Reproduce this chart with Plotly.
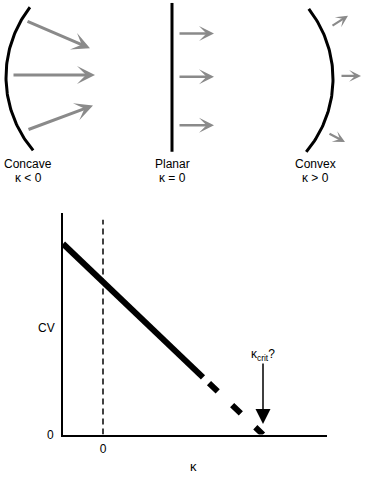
import numpy as np
import plotly.graph_objects as go

# ---------------- data ----------------
kappa_solid = [-1.0, 2.5]        # measured relation CV(kappa)
cv_solid = [5.0, 1.5]
kappa_dashed = [2.65, 4.0]       # extrapolation toward kappa_crit
cv_dashed = [1.35, 0.0]
kappa_zero = [0, 0]
cv_zero = [0, 5.63]
kappa_crit = 4.0
x_tick_vals = [0]
x_tick_text = ["0"]
y_tick_vals = [0]
y_tick_text = ["0"]
front_names = ["Concave", "Planar", "Convex"]
front_kappa = ["κ < 0", "κ = 0", "κ > 0"]

W, H = 367, 481
FONT = "Arial, 'Liberation Sans', Helvetica, sans-serif"
GRAY = "#8a8a8a"

fig = go.Figure()

# ---------------- schematic (top) on overlay axes x2/y2 ----------------
def arc(cx, cy, r, a0, a1):
    t = np.radians(np.linspace(a0, a1, 80))
    return cx + r * np.cos(t), cy + r * np.sin(t)

ax_, ay_ = arc(122, 78, 116, 140, 217.5)
fig.add_trace(go.Scatter(x=ax_, y=ay_, xaxis="x2", yaxis="y2", mode="lines",
                         line=dict(color="black", width=3), hoverinfo="skip"))
fig.add_trace(go.Scatter(x=[172, 172], y=[3, 154], xaxis="x2", yaxis="y2", mode="lines",
                         line=dict(color="black", width=3), hoverinfo="skip"))
bx_, by_ = arc(217, 80, 116, -37.7, 39.7)
fig.add_trace(go.Scatter(x=bx_, y=by_, xaxis="x2", yaxis="y2", mode="lines",
                         line=dict(color="black", width=3), hoverinfo="skip"))

arrow_sets = [
    (dict(tails=[(26, 21), (12, 76), (27, 132)], tips=[(90, 49), (95, 76), (93, 107)]), 3, 1.0),
    (dict(tails=[(178, 34), (178, 78), (178, 127)], tips=[(214, 34), (214, 78), (214, 127)]), 2.5, 1.0),
    (dict(tails=[(331, 27), (340, 77), (328, 135)], tips=[(348, 16), (361, 77), (345, 144)]), 2.2, 0.9),
]
annotations = []
for s, w, sz in arrow_sets:
    for (tx, ty), (hx, hy) in zip(s["tails"], s["tips"]):
        annotations.append(dict(x=hx, y=hy, ax=tx, ay=ty, xref="x2", yref="y2",
                                axref="x2", ayref="y2", text="", showarrow=True,
                                arrowhead=3, arrowsize=sz, arrowwidth=w,
                                arrowcolor=GRAY, standoff=0))

label_x = [28, 172, 315]
for lx, name, kap in zip(label_x, front_names, front_kappa):
    annotations.append(dict(x=lx, y=166, xref="x2", yref="y2", text=name, showarrow=False,
                            xanchor="center", font=dict(family=FONT, size=12, color="black")))
    annotations.append(dict(x=lx, y=181, xref="x2", yref="y2", text=kap, showarrow=False,
                            xanchor="center", font=dict(family=FONT, size=12, color="black")))

# ---------------- bottom chart ----------------
fig.add_trace(go.Scatter(x=kappa_zero, y=cv_zero, mode="lines",
                         line=dict(color="black", width=1.5, dash="6px,4px"),
                         hoverinfo="skip"))
fig.add_trace(go.Scatter(x=kappa_solid, y=cv_solid, mode="lines",
                         line=dict(color="black", width=6), hoverinfo="skip"))
fig.add_trace(go.Scatter(x=kappa_dashed, y=cv_dashed, mode="lines",
                         line=dict(color="black", width=6, dash="12px,20px"),
                         hoverinfo="skip"))

annotations.append(dict(x=kappa_crit, y=0.28, ax=kappa_crit, ay=1.9, xref="x", yref="y",
                        axref="x", ayref="y", text="", showarrow=True, arrowhead=2,
                        arrowsize=2, arrowwidth=1.5, arrowcolor="black", standoff=0))
annotations.append(dict(x=kappa_crit, y=2.08, xref="x", yref="y", xanchor="center",
                        text="κ<sub>crit</sub>?", showarrow=False,
                        font=dict(family=FONT, size=12, color="black")))
annotations.append(dict(x=46 / W, y=2.8, xref="paper", yref="y", text="CV",
                        xanchor="center", showarrow=False,
                        font=dict(family=FONT, size=12, color="black")))
annotations.append(dict(x=2.25, y=1 - 473 / H, xref="x", yref="paper", text="κ",
                        xanchor="center", yanchor="middle", showarrow=False,
                        font=dict(family=FONT, size=13, color="black")))

fig.update_layout(
    width=W, height=H, margin=dict(l=0, r=0, t=0, b=0),
    paper_bgcolor="white", plot_bgcolor="rgba(0,0,0,0)", showlegend=False,
    font=dict(family=FONT, size=12, color="black"),
    xaxis=dict(domain=[63 / W, 327 / W], range=[-1, 5.6], showgrid=False, zeroline=False,
               showline=True, linecolor="black", linewidth=2, ticks="",
               tickvals=x_tick_vals, ticktext=x_tick_text, ticklabelstandoff=2),
    yaxis=dict(domain=[1 - 441 / H, 1 - 216 / H], range=[0, 5.81], showgrid=False,
               zeroline=False, showline=True, linecolor="black", linewidth=1.8, ticks="",
               tickvals=y_tick_vals, ticktext=y_tick_text, ticklabelstandoff=5),
    xaxis2=dict(domain=[0, 1], range=[0, W], visible=False, anchor="y2"),
    yaxis2=dict(domain=[0, 1], range=[H, 0], visible=False, anchor="x2"),
    annotations=annotations,
)

fig.write_html("out.html", config={"displayModeBar": False},
               post_script="document.body.style.margin='0';")
